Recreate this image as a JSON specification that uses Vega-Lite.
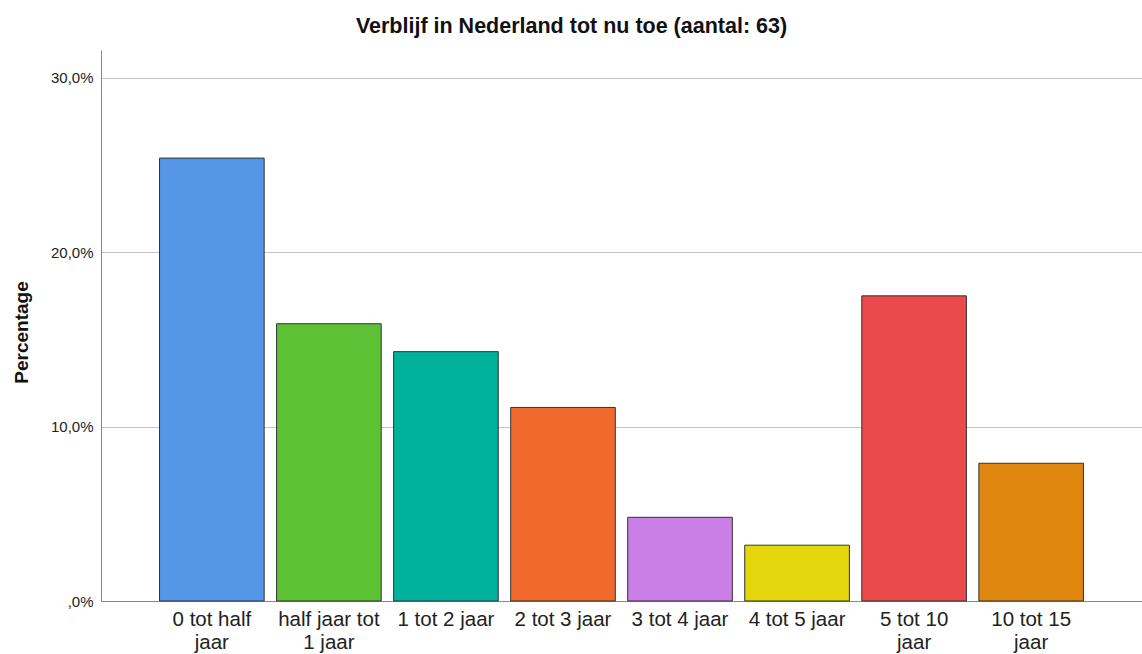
{
  "$schema": "https://vega.github.io/schema/vega-lite/v6.json",
  "autosize": "none",
  "width": 1041,
  "height": 551,
  "padding": {"left": 101, "top": 50, "right": 0, "bottom": 53},
  "background": "white",
  "title": {
    "text": "Verblijf in Nederland tot nu toe (aantal: 63)",
    "font": "Liberation Sans",
    "fontSize": 21.5,
    "fontWeight": "bold",
    "color": "#111111",
    "baseline": "alphabetic",
    "offset": 17,
    "dy": 21,
    "dx": -50
  },
  "data": {
    "values": [
      {"cat": "0 tot half jaar", "pct": 25.4},
      {"cat": "half jaar tot 1 jaar", "pct": 15.9},
      {"cat": "1 tot 2 jaar", "pct": 14.3},
      {"cat": "2 tot 3 jaar", "pct": 11.1},
      {"cat": "3 tot 4 jaar", "pct": 4.8},
      {"cat": "4 tot 5 jaar", "pct": 3.2},
      {"cat": "5 tot 10 jaar", "pct": 17.5},
      {"cat": "10 tot 15 jaar", "pct": 7.9}
    ]
  },
  "mark": {"type": "bar", "stroke": "#333333", "strokeWidth": 1},
  "encoding": {
    "x": {
      "field": "cat",
      "type": "nominal",
      "sort": null,
      "scale": {"paddingInner": 0.106, "paddingOuter": 0.5},
      "axis": {
        "title": null,
        "labelAngle": 0,
        "ticks": false,
        "labelPadding": 8,
        "labelFont": "Liberation Sans",
        "labelFontSize": 20.5,
        "labelColor": "#222222",
        "labelLineHeight": 23,
        "labelBaseline": "top",
        "domainColor": "#888888",
        "grid": false,
        "labelExpr": "datum.label == '0 tot half jaar' ? ['0 tot half', 'jaar'] : datum.label == 'half jaar tot 1 jaar' ? ['half jaar tot', '1 jaar'] : datum.label == '5 tot 10 jaar' ? ['5 tot 10', 'jaar'] : datum.label == '10 tot 15 jaar' ? ['10 tot 15', 'jaar'] : datum.label"
      }
    },
    "y": {
      "field": "pct",
      "type": "quantitative",
      "scale": {"domain": [0, 31.6], "nice": false},
      "axis": {
        "title": "Percentage",
        "titleFont": "Liberation Sans",
        "titleFontSize": 19,
        "titleFontWeight": "bold",
        "titleColor": "#111111",
        "titleX": -80,
        "titleY": 282,
        "titleAngle": -90,
        "titleBaseline": "middle",
        "titleAlign": "center",
        "values": [0, 10, 20, 30],
        "ticks": false,
        "labelPadding": 8,
        "labelFont": "Liberation Sans",
        "labelFontSize": 15,
        "labelColor": "#222222",
        "labelExpr": "datum.value == 0 ? ',0%' : replace(format(datum.value, '.1f'), '.', ',') + '%'",
        "domainColor": "#888888",
        "grid": true,
        "gridColor": "#c4c4c4",
        "gridWidth": 1
      }
    },
    "color": {
      "field": "cat",
      "type": "nominal",
      "sort": null,
      "legend": null,
      "scale": {
        "domain": ["0 tot half jaar", "half jaar tot 1 jaar", "1 tot 2 jaar", "2 tot 3 jaar", "3 tot 4 jaar", "4 tot 5 jaar", "5 tot 10 jaar", "10 tot 15 jaar"],
        "range": ["#5596E6", "#5CC135", "#00B29E", "#F1692C", "#CA7FE6", "#E3D70C", "#EB4A4C", "#DF860F"]
      }
    }
  },
  "config": {"view": {"stroke": null}}
}
